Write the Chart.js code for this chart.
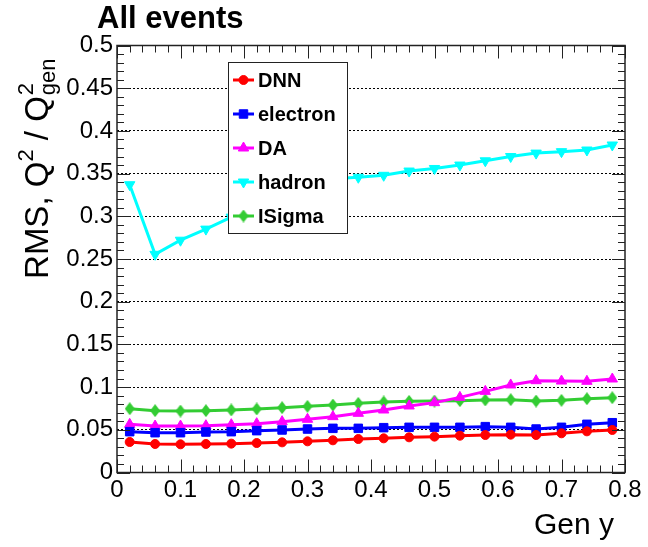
<!DOCTYPE html>
<html>
<head>
<meta charset="utf-8">
<script src="https://cdn.jsdelivr.net/npm/chart.js@4.4.1/dist/chart.umd.min.js"></script>
<style>
  body { margin: 0; background: #fff; }
  #wrap { width: 648px; height: 547px; }
</style>
</head>
<body>
<div id="wrap"><canvas id="rmsChart" width="648" height="547"></canvas></div>
<script>
// Gen y bin centres
const genY = [0.02, 0.06, 0.10, 0.14, 0.18, 0.22, 0.26, 0.30, 0.34, 0.38,
              0.42, 0.46, 0.50, 0.54, 0.58, 0.62, 0.66, 0.70, 0.74, 0.78];

// RMS of Q2 / Q2gen per method
const dnn = [0.0357, 0.0334, 0.0330, 0.0334, 0.0338, 0.0345, 0.0353, 0.0365, 0.0377, 0.0392,
             0.0400, 0.0412, 0.0420, 0.0431, 0.0439, 0.0443, 0.0439, 0.0459, 0.0482, 0.0498];
const electron = [0.0478, 0.0466, 0.0466, 0.0474, 0.0478, 0.0490, 0.0498, 0.0509, 0.0517, 0.0517,
                  0.0525, 0.0529, 0.0529, 0.0529, 0.0537, 0.0529, 0.0509, 0.0529, 0.0564, 0.0583];
const da = [0.0564, 0.0544, 0.0544, 0.0548, 0.0560, 0.0572, 0.0595, 0.0623, 0.0654, 0.0693,
            0.0732, 0.0779, 0.0818, 0.0880, 0.0950, 0.1025, 0.1075, 0.1071, 0.1068, 0.1095];
const hadron = [0.337, 0.2555, 0.272, 0.285, 0.299, 0.311, 0.322, 0.333, 0.344, 0.3457,
                0.348, 0.353, 0.356, 0.360, 0.365, 0.370, 0.374, 0.3757, 0.3776, 0.3835];
const iSigma = [0.0747, 0.0724, 0.0720, 0.0724, 0.0732, 0.0744, 0.0759, 0.0775, 0.0790, 0.0810,
                0.0826, 0.0833, 0.0837, 0.0841, 0.0849, 0.0853, 0.0837, 0.0845, 0.0864, 0.0876];

const seriesNames = ["DNN", "electron", "DA", "hadron", "ISigma"];
const xTicks = [0, 0.1, 0.2, 0.3, 0.4, 0.5, 0.6, 0.7, 0.8];
const yTicks = [0, 0.05, 0.1, 0.15, 0.2, 0.25, 0.3, 0.35, 0.4, 0.45, 0.5];

const FONT = "'Liberation Sans', Arial, Helvetica, sans-serif";

function makeDiamond(color, w, h) {
  const c = document.createElement("canvas");
  c.width = w;
  c.height = h;
  const g = c.getContext("2d");
  g.fillStyle = color;
  g.beginPath();
  g.moveTo(w / 2, 0);
  g.lineTo(w, h / 2);
  g.lineTo(w / 2, h);
  g.lineTo(0, h / 2);
  g.closePath();
  g.fill();
  return c;
}

function series(label, values, color, style, radius, rotation) {
  return {
    label: label,
    data: values.map((v, i) => ({ x: genY[i], y: v })),
    borderColor: color,
    backgroundColor: color,
    pointBackgroundColor: color,
    pointBorderColor: color,
    borderWidth: 3,
    pointStyle: style,
    pointRadius: radius,
    pointRotation: rotation || 0,
    pointBorderWidth: 1,
    tension: 0,
  };
}

// ROOT-like frame with inner ticks on all four sides
const framePlugin = {
  id: "rootFrame",
  afterDatasetsDraw(chart) {
    const ctx = chart.ctx;

    // legend box
    const lx = 228.5, ly = 62.5, lw = 119, lh = 171;
    ctx.save();
    ctx.fillStyle = "#fff";
    ctx.fillRect(lx, ly, lw, lh);
    ctx.strokeStyle = "#222";
    ctx.lineWidth = 1;
    ctx.strokeRect(lx, ly, lw, lh);
    chart.data.datasets.forEach((ds, i) => {
      const y = 80 + i * 34;
      ctx.strokeStyle = ds.borderColor;
      ctx.lineWidth = 3;
      ctx.beginPath();
      ctx.moveTo(233, y);
      ctx.lineTo(254, y);
      ctx.stroke();
      ctx.fillStyle = ds.pointBackgroundColor;
      ctx.strokeStyle = ds.pointBorderColor;
      ctx.lineWidth = 1;
      Chart.helpers.drawPoint(ctx, {
        pointStyle: ds.pointStyle,
        rotation: ds.pointRotation,
        radius: ds.pointRadius,
        borderWidth: 1,
      }, 243.5, y);
      ctx.fillStyle = "#000";
      ctx.font = "bold 20px " + FONT;
      ctx.textBaseline = "middle";
      ctx.textAlign = "left";
      ctx.fillText(seriesNames[i], 258, y + 1);
    });
    ctx.restore();
  },
  afterDraw(chart) {
    const ctx = chart.ctx;
    const xs = chart.scales.x;
    const ys = chart.scales.y;
    const a = chart.chartArea;
    ctx.save();
    ctx.strokeStyle = "#222";
    ctx.lineWidth = 1.5;
    ctx.strokeRect(a.left, a.top, a.right - a.left, a.bottom - a.top);

    ctx.lineWidth = 1;
    ctx.beginPath();
    for (let i = 0; i <= 50; i++) {
      const py = Math.round(ys.getPixelForValue(i / 100)) + 0.5;
      const len = i % 5 === 0 ? 13 : 7;
      ctx.moveTo(a.left, py); ctx.lineTo(a.left + len, py);
      ctx.moveTo(a.right, py); ctx.lineTo(a.right - len, py);
    }
    for (let i = 0; i <= 40; i++) {
      const px = Math.round(xs.getPixelForValue(i / 50)) + 0.5;
      const len = i % 5 === 0 ? 13 : 7;
      ctx.moveTo(px, a.bottom); ctx.lineTo(px, a.bottom - len);
      ctx.moveTo(px, a.top); ctx.lineTo(px, a.top + len);
    }
    ctx.stroke();

    // titles
    ctx.fillStyle = "#000";
    ctx.textBaseline = "alphabetic";
    ctx.font = "bold 31px " + FONT;
    ctx.textAlign = "left";
    ctx.fillText("All events", 97, 28);

    ctx.font = "30px " + FONT;
    ctx.textAlign = "right";
    ctx.fillText("Gen y", 614, 534);

    // y title: RMS, Q^2 / Q^2_gen, right-aligned near the top of the axis
    ctx.translate(48, a.top + 12);
    ctx.rotate(-Math.PI / 2);
    const big = "33px " + FONT;
    const small = "22px " + FONT;
    ctx.font = big;
    const w1 = ctx.measureText("RMS, Q").width;
    const w3 = ctx.measureText(" / Q").width;
    ctx.font = small;
    const w2 = ctx.measureText("2").width;
    const w4 = Math.max(ctx.measureText("gen").width, w2);
    let x = -(w1 + w2 + w3 + w4 + 2);
    ctx.textAlign = "left";
    ctx.font = big;
    ctx.fillText("RMS, Q", x, 0);
    x += w1;
    ctx.font = small;
    ctx.fillText("2", x, -15);
    x += w2;
    ctx.font = big;
    ctx.fillText(" / Q", x, 0);
    x += w3 + 1;
    ctx.font = small;
    ctx.fillText("2", x, -15);
    ctx.fillText("gen", x, 7);
    ctx.restore();
  },
};

const fmt = (v) => String(Number(v.toFixed(2)));

new Chart(document.getElementById("rmsChart").getContext("2d"), {
  type: "line",
  data: {
    datasets: [
      series("DNN", dnn, "#ff0000", "circle", 4.5),
      series("electron", electron, "#0000ff", "rect", 6),
      series("DA", da, "#ff00ff", "triangle", 6),
      series("hadron", hadron, "#00ffff", "triangle", 6, 180),
      series("ISigma", iSigma, "#33cc33", makeDiamond("#33cc33", 10, 13), 6),
    ],
  },
  options: {
    responsive: false,
    animation: false,
    events: [],
    layout: { padding: { top: 45.5, right: 23, left: 0, bottom: 0 } },
    plugins: { legend: { display: false }, tooltip: { enabled: false } },
    scales: {
      x: {
        type: "linear",
        min: 0,
        max: 0.8,
        afterFit: (scale) => { scale.height = 74.5; },
        afterBuildTicks: (scale) => { scale.ticks = xTicks.map((v) => ({ value: v })); },
        grid: { display: false, drawTicks: false },
        border: { display: false },
        ticks: {
          autoSkip: false,
          maxRotation: 0,
          padding: 3,
          color: "#000",
          font: { family: FONT, size: 24 },
          callback: fmt,
        },
      },
      y: {
        type: "linear",
        min: 0,
        max: 0.5,
        afterFit: (scale) => { scale.width = 117; },
        afterBuildTicks: (scale) => { scale.ticks = yTicks.map((v) => ({ value: v })); },
        grid: {
          drawTicks: false,
          color: (c) => (c.tick && (c.tick.value === 0 || c.tick.value === 0.5) ? "rgba(0,0,0,0)" : "#000"),
          lineWidth: 1,
        },
        border: { display: false, dash: [2, 2] },
        ticks: {
          autoSkip: false,
          padding: 4,
          color: "#000",
          font: { family: FONT, size: 24 },
          callback: fmt,
        },
      },
    },
  },
  plugins: [framePlugin],
});
</script>
</body>
</html>
